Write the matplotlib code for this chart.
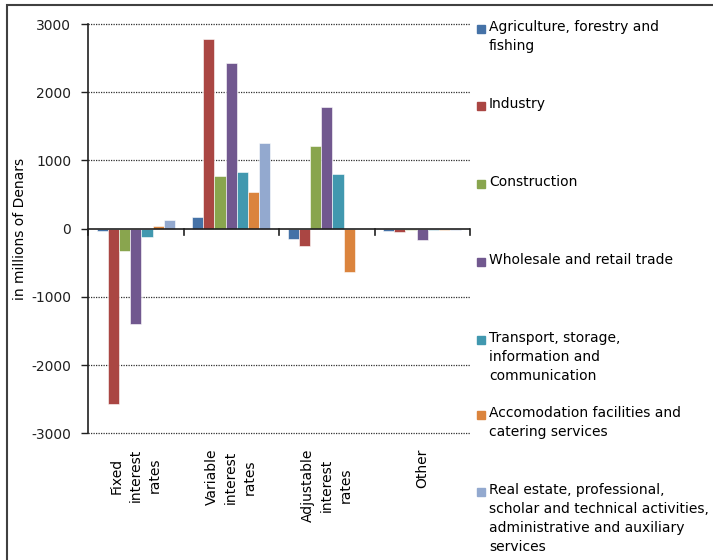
import numpy as np
import matplotlib
matplotlib.use("Agg")
import matplotlib.pyplot as plt
from matplotlib.patches import Rectangle

plt.rcParams["axes.unicode_minus"] = False

categories = ["Fixed\ninterest\nrates", "Variable\ninterest\nrates",
              "Adjustable\ninterest\nrates", "Other"]
sectors = [
    "Agriculture, forestry and\nfishing",
    "Industry",
    "Construction",
    "Wholesale and retail trade",
    "Transport, storage,\ninformation and\ncommunication",
    "Accomodation facilities and\ncatering services",
    "Real estate, professional,\nscholar and technical activities,\nadministrative and auxiliary\nservices",
]
# values in millions of Denars, one list per sector (Fixed, Variable, Adjustable, Other)
agriculture = [-28, 171, -147, -28]
industry = [-2570, 2786, -249, -44]
construction = [-322, 768, 1213, -25]
wholesale = [-1393, 2425, 1784, -166]
transport = [-127, 836, 802, -22]
accomodation = [44, 536, -635, -22]
real_estate = [132, 1257, -4, -22]
series = [agriculture, industry, construction, wholesale, transport, accomodation, real_estate]

colors = ["#4572A7", "#AA4643", "#89A54E", "#71588F", "#4198AF", "#DB843D", "#93A9CF"]
legend_y = [29, 106, 184, 262, 340, 415, 492]  # first-line y in pixels

W, H = 713, 560
fig = plt.figure(figsize=(W / 100, H / 100), dpi=100)
fig.patches.append(Rectangle((7 / W, -0.1), 1.2, 1 - 5 / H + 0.1, transform=fig.transFigure,
                             fill=False, edgecolor="#404040", lw=1.5))

ax = fig.add_axes([88 / W, 1 - 433.3 / H, (470 - 88) / W, (433.3 - 24) / H])
x = np.arange(len(categories))
bw = 0.117
for i, (vals, c) in enumerate(zip(series, colors)):
    ax.bar(x + (i - 3) * bw, vals, bw, color=c, edgecolor="white", linewidth=0.4, zorder=3)

ax.set_xlim(-0.5, len(categories) - 0.5)
ax.set_ylim(-3000, 3000)
ax.set_yticks(np.arange(-3000, 3001, 1000))
ax.tick_params(axis="y", labelsize=10, length=5, width=1, pad=7, direction="out", colors="#202020")
for v in [-3000, -2000, -1000, 1000, 2000, 3000]:
    ax.axhline(v, color="#303030", lw=0.9, ls=(0, (1, 1)), zorder=1, clip_on=False)
ax.axhline(0, color="#202020", lw=1.2, zorder=4)
for b in np.arange(-0.5, len(categories), 1.0):
    ax.plot([b, b], [0, -100], color="#202020", lw=1.2, clip_on=False, zorder=4)
ax.set_xticks([])
for s in ["top", "right", "bottom"]:
    ax.spines[s].set_visible(False)
ax.spines["left"].set_linewidth(1.2)
ax.spines["left"].set_color("#202020")
ax.set_ylabel("in millions of Denars", fontsize=10)
ax.yaxis.set_label_coords(-0.16, 0.5)

for xi, lab in zip(x, categories):
    ax.text(xi, -3230, lab, rotation=90, ha="center", va="top", multialignment="center",
            fontsize=10, linespacing=1.45)

for lab, c, yp in zip(sectors, colors, legend_y):
    fig.patches.append(Rectangle((477 / W, 1 - (yp + 4) / H), 8 / W, 8 / H,
                                 transform=fig.transFigure, color=c))
    fig.text(489 / W, 1 - (yp - 9) / H, lab, fontsize=10, va="top", ha="left",
             linespacing=1.45)

fig.savefig("out.png", dpi=100)
